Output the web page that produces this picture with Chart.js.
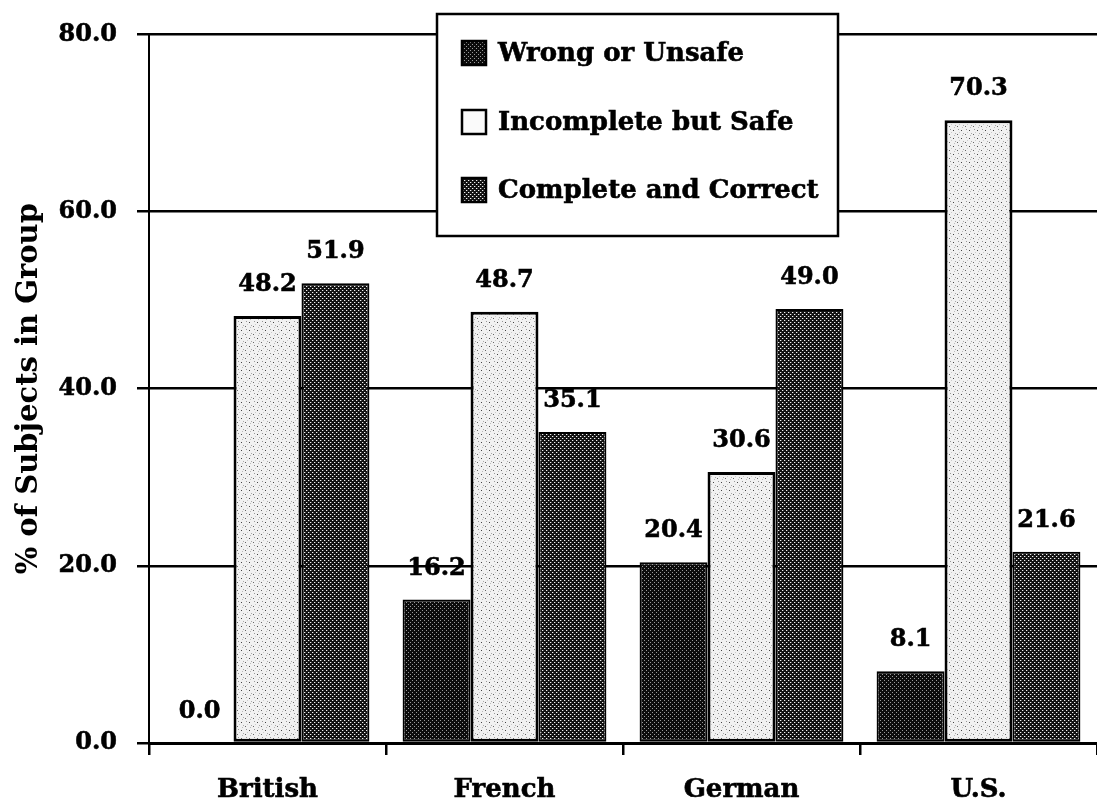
<!DOCTYPE html>
<html>
<head>
<meta charset="utf-8">
<script src="https://cdn.jsdelivr.net/npm/chart.js@4"></script>
<style>
  html, body { margin: 0; padding: 0; background: #fff; }
  #chart { display: block; }
</style>
</head>
<body>
<canvas id="chart" width="1097" height="804"></canvas>
<script>
// Survey results per group (% of subjects)
const categories = ['British', 'French', 'German', 'U.S.'];
const seriesNames = ['Wrong or Unsafe', 'Incomplete but Safe', 'Complete and Correct'];
const wrongUnsafe = [0.0, 16.2, 20.4, 8.1];
const incompleteSafe = [48.2, 48.7, 30.6, 70.3];
const completeCorrect = [51.9, 35.1, 49.0, 21.6];
const yTicks = [0, 20, 40, 60, 80];

const FONT = '"DejaVu Serif", "Liberation Serif", serif';

// small tiled textures for the bar fills
function makePattern(size, bg, dots) {
  const c = document.createElement('canvas');
  c.width = size;
  c.height = size;
  const g = c.getContext('2d');
  g.fillStyle = bg;
  g.fillRect(0, 0, size, size);
  dots.forEach(d => {
    g.fillStyle = d[4];
    g.fillRect(d[0], d[1], d[2], d[3]);
  });
  return g.createPattern(c, 'repeat');
}

const darkFill = makePattern(4, '#0c0c0c', [
  [0, 0, 1, 1, '#9a9a9a'], [2, 2, 1, 1, '#9a9a9a']
]);
const midFill = makePattern(4, '#121212', [
  [0, 0, 1, 1, '#f2f2f2'], [2, 2, 1, 1, '#f2f2f2'],
  [1, 0, 1, 1, '#555'], [3, 2, 1, 1, '#555']
]);
const lightFill = makePattern(8, '#f1f1f1', [
  [1, 2, 1, 1, '#444'], [5, 6, 1, 1, '#666'], [6, 1, 1, 1, '#999'],
  [3, 5, 1, 1, '#aaa'], [2, 7, 1, 1, '#bbb'], [7, 4, 1, 1, '#ccc']
]);
const fills = [darkFill, lightFill, midFill];
const swatches = [darkFill, '#fafafa', midFill];

// numbers over each bar
const valueLabels = {
  id: 'valueLabels',
  afterDatasetsDraw(chart) {
    const ctx = chart.ctx;
    ctx.save();
    ctx.font = 'bold 24px ' + FONT;
    ctx.fillStyle = '#000';
    ctx.strokeStyle = '#000';
    ctx.lineWidth = 0.6;
    ctx.textAlign = 'center';
    ctx.textBaseline = 'alphabetic';
    chart.data.datasets.forEach((ds, i) => {
      chart.getDatasetMeta(i).data.forEach((bar, j) => {
        const txt = ds.data[j].toFixed(1);
        ctx.fillText(txt, bar.x, bar.y - 25);
        ctx.strokeText(txt, bar.x, bar.y - 25);
      });
    });
    ctx.restore();
  }
};

// boxed legend sitting over the top gridlines
const boxLegend = {
  id: 'boxLegend',
  afterDraw(chart) {
    const ctx = chart.ctx;
    ctx.save();
    ctx.fillStyle = '#fff';
    ctx.fillRect(437, 14, 401, 222);
    ctx.strokeStyle = '#000';
    ctx.lineWidth = 2.5;
    ctx.strokeRect(437, 14, 401, 222);
    ctx.font = 'bold 26px ' + FONT;
    ctx.textBaseline = 'middle';
    ctx.textAlign = 'left';
    const rows = [53, 122, 190];
    chart.data.datasets.forEach((ds, i) => {
      const y = rows[i];
      ctx.fillStyle = swatches[i];
      ctx.fillRect(462, y - 12, 24, 24);
      ctx.lineWidth = 2.5;
      ctx.strokeRect(462, y - 12, 24, 24);
      ctx.fillStyle = '#000';
      ctx.lineWidth = 0.6;
      ctx.fillText(ds.label, 498, y + 1);
      ctx.strokeText(ds.label, 498, y + 1);
    });
    ctx.restore();
  }
};

new Chart(document.getElementById('chart'), {
  type: 'bar',
  data: {
    labels: categories,
    datasets: [wrongUnsafe, incompleteSafe, completeCorrect].map((vals, i) => ({
      label: seriesNames[i],
      data: vals,
      backgroundColor: fills[i],
      borderColor: '#000',
      borderWidth: i === 1 ? 3 : 2,
      borderSkipped: false,
      barPercentage: 1,
      categoryPercentage: 0.86
    }))
  },
  options: {
    responsive: false,
    animation: false,
    layout: { padding: { top: 34, right: -3, left: 0, bottom: 0 } },
    plugins: {
      legend: { display: false },
      tooltip: { enabled: false }
    },
    scales: {
      x: {
        grid: {
          drawOnChartArea: false,
          drawTicks: true,
          tickLength: 12,
          color: '#000',
          lineWidth: 2.5
        },
        border: { color: '#000', width: 3 },
        ticks: {
          color: '#000',
          padding: 20,
          textStrokeColor: '#000',
          textStrokeWidth: 0.6,
          font: { family: FONT, size: 26, weight: 'bold' }
        },
        afterFit(scale) { scale.height = 61; }
      },
      y: {
        min: 0,
        max: 80,
        afterBuildTicks(axis) {
          axis.ticks = yTicks.map(v => ({ value: v }));
        },
        grid: {
          color: '#000',
          lineWidth: 2.5,
          tickLength: 12
        },
        border: { color: '#000', width: 2 },
        ticks: {
          color: '#000',
          padding: 20,
          textStrokeColor: '#000',
          textStrokeWidth: 0.6,
          font: { family: FONT, size: 24, weight: 'bold' },
          callback: v => v.toFixed(1)
        },
        title: {
          display: true,
          text: '% of Subjects in Group',
          color: '#000',
          padding: { top: 12, bottom: 0 },
          font: { family: FONT, size: 29, weight: 'bold' }
        },
        afterFit(scale) { scale.width = 149; }
      }
    }
  },
  plugins: [valueLabels, boxLegend]
});
</script>
</body>
</html>
